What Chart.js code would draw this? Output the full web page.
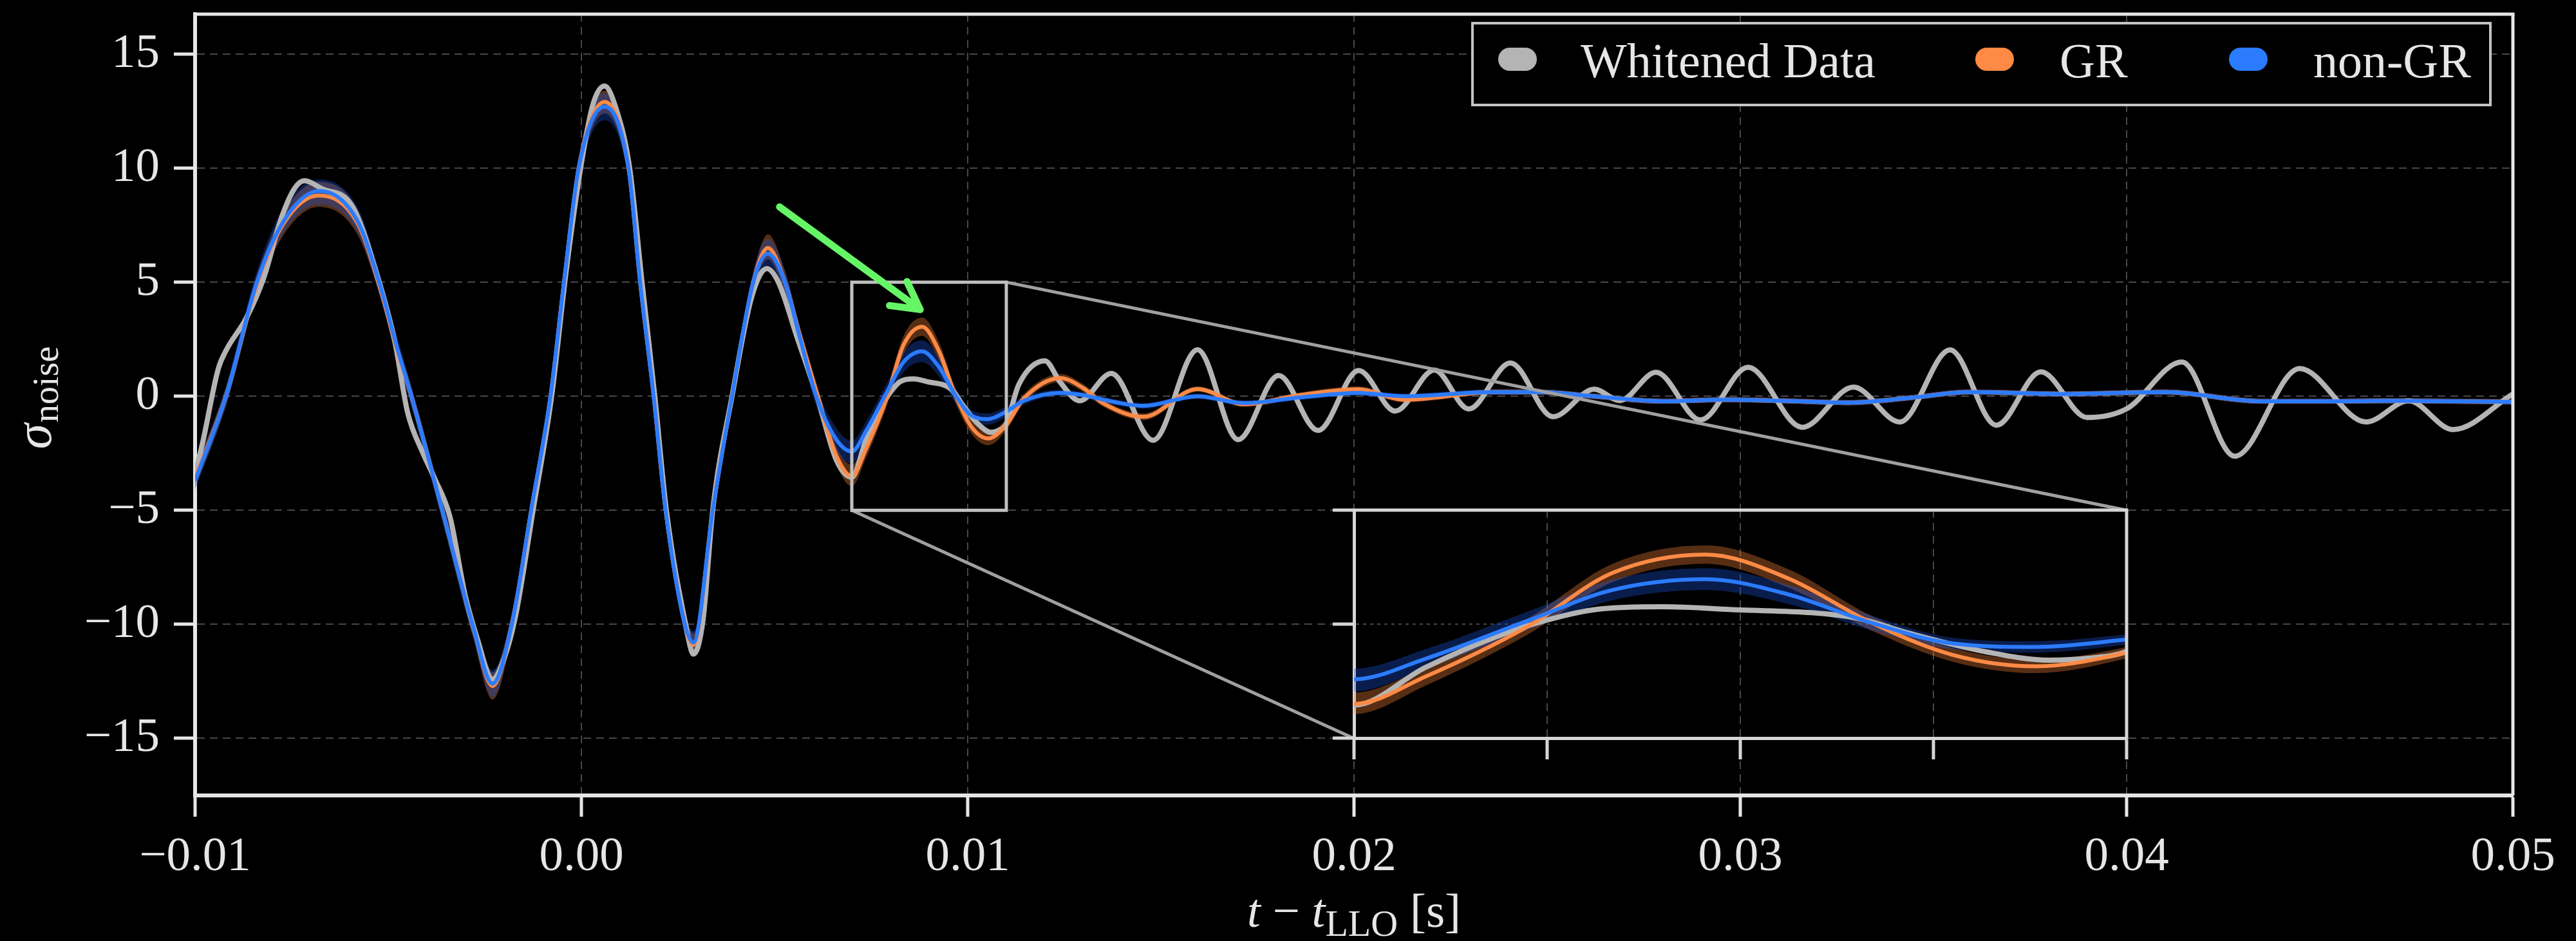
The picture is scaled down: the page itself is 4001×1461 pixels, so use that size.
<!DOCTYPE html>
<html>
<head>
<meta charset="utf-8">
<script src="https://cdn.jsdelivr.net/npm/chart.js@4.4.1/dist/chart.umd.min.js"></script>
<style>
html, body { margin: 0; padding: 0; background: #000; }
#wrap { position: relative; width: 4001px; height: 1461px; overflow: hidden; }
#main { position: absolute; left: 0; top: 0; }
#inset { position: absolute; }
</style>
</head>
<body>
<div id="wrap">
  <canvas id="main" width="4001" height="1461"></canvas>
  <canvas id="inset"></canvas>
</div>
<script>
// axes
var xTicks = [-0.01, 0.0, 0.01, 0.02, 0.03, 0.04, 0.05];
var yTicks = [-15, -10, -5, 0, 5, 10, 15];
var insetXTicks = [0.007, 0.008, 0.009, 0.010, 0.011];
var insetYTicks = [-5, 0, 5];
var seriesNames = ['Whitened Data', 'GR', 'non-GR'];

// zoomed region and where the inset sits (data coords of the main axes)
var zoomBox = {x0: 0.007, x1: 0.011, y0: -5, y1: 5};
var insetBox = {x0: 0.02, x1: 0.04, y0: -15, y1: -5};
var arrowFrom = [0.00513, 8.3];
var arrowTo = [0.00877, 3.8];

// whitened data
var tData = [
  -0.0100, -0.0098, -0.0094, -0.0092, -0.00867, -0.00822, -0.00777, -0.00743, -0.00717, -0.00672,
  -0.00593, -0.00527, -0.00483, -0.0045, -0.0041, -0.0038, -0.0034, -0.0030, -0.0027, -0.0023,
  -0.0020, -0.0017, -0.00125, -0.00077, -0.0004, 0.0000, 0.0003, 0.0006, 0.0009, 0.00125,
  0.00157, 0.0019, 0.0022, 0.0027, 0.0029, 0.00315, 0.0034, 0.0039, 0.0044, 0.0048,
  0.0051, 0.0056, 0.0061, 0.0066, 0.0070, 0.00737, 0.00773, 0.0080, 0.00826, 0.0086,
  0.0090, 0.00937, 0.0096, 0.00987, 0.01028, 0.0106, 0.0108, 0.0110, 0.01132, 0.0120,
  0.0124, 0.0129, 0.01372, 0.0148, 0.01595, 0.0170, 0.01805, 0.01907, 0.02012, 0.02107,
  0.02208, 0.02297, 0.02405, 0.02515, 0.02622, 0.02688, 0.02782, 0.02897, 0.0302, 0.0316,
  0.03293, 0.03413, 0.03543, 0.03663, 0.03778, 0.03898, 0.0400, 0.04143, 0.0428, 0.04448,
  0.0462, 0.0473, 0.04845, 0.0500
];
var yData = [
  -3.4, -2.0, 1.2, 2.0, 3.44, 5.2, 7.8, 9.1, 9.45, 9.1,
  8.33, 5.2, 2.4, -0.7, -2.5, -3.6, -5.3, -8.8, -10.6, -12.4,
  -11.5, -9.6, -5.0, 0.0, 5.4, 10.2, 12.8, 13.6, 12.6, 10.0,
  5.0, 0.0, -5.0, -10.0, -11.3, -9.8, -5.0, 0.0, 4.3, 5.6,
  5.0, 2.5, 0.0, -2.8, -3.55, -1.9, -0.57, 0.18, 0.65, 0.76,
  0.62, 0.5, 0.27, -0.39, -1.23, -1.58, -1.5, -1.2, 0.5, 1.55,
  0.6, -0.2, 1.0, -1.93, 2.04, -1.9, 0.91, -1.5, 1.13, -0.65,
  1.15, -0.56, 1.46, -0.9, 0.31, -0.19, 1.05, -1.04, 1.27, -1.36,
  0.4, -1.13, 2.03, -1.27, 1.07, -0.93, -0.55, 1.5, -2.63, 1.21,
  -1.13, -0.2, -1.46, 0.1
];

// GR and non-GR reconstructions (median and 90% band)
var tModel = [
  -0.0100, -0.0092, -0.0084, -0.0077, -0.0068, -0.0058, -0.0052, -0.0048, -0.0044, -0.0036,
  -0.0028, -0.0023, -0.0018, -0.0013, -0.0008, -0.00045, -0.00007, 0.0006, 0.00122, 0.00152,
  0.00187, 0.00218, 0.00268, 0.0029, 0.0034, 0.0039, 0.00445, 0.00483, 0.00527, 0.00565,
  0.0061, 0.0066, 0.0070, 0.00737, 0.0079, 0.00834, 0.00882, 0.00925, 0.00967, 0.0101,
  0.01053, 0.0110, 0.01145, 0.0124, 0.0130, 0.0135, 0.01455, 0.01595, 0.01715, 0.0186,
  0.0201, 0.0213, 0.0236, 0.0248, 0.0262, 0.0280, 0.0296, 0.0311, 0.0328, 0.0345,
  0.0359, 0.0384, 0.0410, 0.0435, 0.0455, 0.0468, 0.0500
];
var yGR = [
  -3.6, 0.0, 4.9, 7.6, 8.8, 7.6, 4.7, 2.2, 0.0, -5.0,
  -10.1, -12.7, -10.0, -5.0, 0.0, 5.0, 10.0, 12.9, 10.0, 5.0,
  0.0, -5.0, -10.0, -10.9, -5.0, 0.0, 5.0, 6.5, 5.0, 2.7,
  0.1, -2.6, -3.5, -2.3, -0.1, 2.25, 3.05, 2.0, 0.1, -1.35,
  -1.85, -1.25, -0.1, 0.8, 0.35, -0.3, -0.9, 0.32, -0.35, 0.05,
  0.31, -0.15, 0.18, 0.18, 0.0, -0.22, -0.15, -0.2, -0.28, -0.05,
  0.18, 0.1, 0.18, -0.22, -0.22, -0.2, -0.25
];
var grLow = [
  -4.0, -0.4, 4.5, 7.1, 8.3, 7.1, 4.3, 1.8, -0.4, -5.4,
  -10.6, -13.3, -10.5, -5.4, -0.4, 4.6, 9.5, 12.4, 9.5, 4.6,
  -0.4, -5.4, -10.5, -11.4, -5.4, -0.4, 4.6, 6.0, 4.5, 2.3,
  -0.3, -3.0, -3.95, -2.7, -0.45, 1.85, 2.65, 1.6, -0.25, -1.65,
  -2.15, -1.5, -0.3, 0.62, 0.18, -0.45, -1.05, 0.2, -0.47, -0.07,
  0.19, -0.27, 0.06, 0.06, -0.12, -0.34, -0.27, -0.32, -0.4, -0.17,
  0.06, -0.02, 0.06, -0.34, -0.34, -0.32, -0.37
];
var grHigh = [
  -3.2, 0.4, 5.3, 8.1, 9.4, 8.2, 5.2, 2.6, 0.4, -4.6,
  -9.6, -12.1, -9.5, -4.6, 0.4, 5.4, 10.5, 13.4, 10.5, 5.4,
  0.4, -4.6, -9.5, -10.4, -4.6, 0.4, 5.4, 7.1, 5.5, 3.1,
  0.5, -2.2, -3.0, -1.9, 0.25, 2.65, 3.45, 2.4, 0.4, -1.05,
  -1.55, -1.0, 0.1, 0.98, 0.52, -0.15, -0.75, 0.44, -0.23, 0.17,
  0.43, -0.03, 0.3, 0.3, 0.12, -0.1, -0.03, -0.08, -0.16, 0.07,
  0.3, 0.22, 0.3, -0.1, -0.1, -0.08, -0.13
];
var yNGR = [
  -3.7, 0.0, 5.0, 7.7, 9.0, 7.7, 4.8, 2.3, 0.0, -5.0,
  -10.1, -12.6, -10.0, -5.0, 0.0, 5.0, 10.0, 12.7, 10.0, 5.0,
  0.0, -5.0, -10.0, -10.8, -5.0, 0.0, 5.0, 6.25, 5.0, 2.6,
  -0.1, -1.9, -2.42, -1.52, 0.15, 1.5, 1.97, 1.3, 0.08, -0.85,
  -1.0, -0.67, -0.2, 0.15, 0.05, -0.15, -0.42, 0.0, -0.3, -0.05,
  0.15, 0.0, 0.18, 0.18, 0.0, -0.22, -0.15, -0.2, -0.28, -0.05,
  0.18, 0.1, 0.18, -0.22, -0.22, -0.2, -0.25
];
var ngrLow = [
  -4.1, -0.45, 4.5, 7.2, 8.4, 7.2, 4.3, 1.8, -0.45, -5.5,
  -10.6, -13.2, -10.5, -5.5, -0.45, 4.5, 9.5, 12.1, 9.5, 4.5,
  -0.45, -5.5, -10.5, -11.3, -5.5, -0.45, 4.5, 5.7, 4.5, 2.1,
  -0.55, -2.4, -2.95, -1.95, -0.25, 1.05, 1.5, 0.88, -0.25, -1.1,
  -1.25, -0.9, -0.38, 0.02, -0.08, -0.28, -0.55, -0.12, -0.42, -0.17,
  0.03, -0.12, 0.06, 0.06, -0.12, -0.34, -0.27, -0.32, -0.4, -0.17,
  0.06, -0.02, 0.06, -0.34, -0.34, -0.32, -0.37
];
var ngrHigh = [
  -3.3, 0.45, 5.5, 8.3, 9.5, 8.3, 5.3, 2.8, 0.45, -4.5,
  -9.6, -12.0, -9.5, -4.5, 0.45, 5.5, 10.5, 13.3, 10.5, 5.5,
  0.45, -4.5, -9.5, -10.3, -4.5, 0.45, 5.5, 6.9, 5.5, 3.1,
  0.35, -1.4, -1.95, -1.1, 0.55, 1.95, 2.45, 1.72, 0.4, -0.6,
  -0.75, -0.45, -0.02, 0.28, 0.18, -0.02, -0.29, 0.12, -0.18, 0.07,
  0.27, 0.12, 0.3, 0.3, 0.12, -0.1, -0.03, -0.08, -0.16, 0.07,
  0.3, 0.22, 0.3, -0.1, -0.1, -0.08, -0.13
];

var SERIF = "'Liberation Serif', 'DejaVu Serif', serif";
var FG = '#e6e6e6';
var GRID = '#474747';
var GREY = '#b4b4b4', ORANGE = '#ff8a45', BLUE = '#2b7bff';

function pts(ts, ys) {
    return ts.map(function (t, i) { return {x: t, y: ys[i]}; });
}
function minus(s) { return s.replace('-', '\u2212'); }

function line(label, data, color, w, order) {
    return {label: label, data: data, borderColor: color, backgroundColor: color,
        borderWidth: w, pointRadius: 0, cubicInterpolationMode: 'monotone',
        fill: false, order: order, clip: 0};
}
function band(label, data, color, target, order) {
    return {label: label, data: data, borderColor: 'rgba(0,0,0,0)', borderWidth: 0,
        backgroundColor: color || 'rgba(0,0,0,0)', pointRadius: 0,
        cubicInterpolationMode: 'monotone', fill: target, order: order, clip: 0};
}
function buildDatasets() {
    return [
        line(seriesNames[2], pts(tModel, yNGR), BLUE, 6, 1),
        line(seriesNames[1], pts(tModel, yGR), ORANGE, 6, 2),
        line(seriesNames[0], pts(tData, yData), GREY, 8, 3),
        band('non-GR 90% high', pts(tModel, ngrHigh), 'rgba(25,85,225,0.34)', 4, 4),
        band('non-GR 90% low', pts(tModel, ngrLow), null, false, 4),
        band('GR 90% high', pts(tModel, grHigh), 'rgba(255,135,60,0.34)', 6, 5),
        band('GR 90% low', pts(tModel, grLow), null, false, 5)
    ];
}

function hline(ctx, x1, y1, x2, y2, color, w) {
    ctx.save();
    ctx.strokeStyle = color;
    ctx.lineWidth = w;
    ctx.beginPath();
    ctx.moveTo(x1, y1);
    ctx.lineTo(x2, y2);
    ctx.stroke();
    ctx.restore();
}

// pieces of the main figure that matplotlib draws as patches / text
var mainDecor = {
    id: 'mainDecor',
    beforeDraw: function (chart) {
        var ctx = chart.ctx;
        ctx.save();
        ctx.fillStyle = '#000';
        ctx.fillRect(0, 0, chart.width, chart.height);
        ctx.restore();
    },
    afterDatasetsDraw: function (chart) {
        var ctx = chart.ctx, xs = chart.scales.x, ys = chart.scales.y;
        var zx0 = xs.getPixelForValue(zoomBox.x0), zx1 = xs.getPixelForValue(zoomBox.x1);
        var zy0 = ys.getPixelForValue(zoomBox.y0), zy1 = ys.getPixelForValue(zoomBox.y1);
        var ix0 = xs.getPixelForValue(insetBox.x0), ix1 = xs.getPixelForValue(insetBox.x1);
        var iy0 = ys.getPixelForValue(insetBox.y0), iy1 = ys.getPixelForValue(insetBox.y1);

        // connectors
        hline(ctx, zx1, zy1, ix1, iy1, '#a0a0a0', 5);
        hline(ctx, zx0, zy0, ix0, iy0, '#a0a0a0', 5);
        // zoom rectangle
        ctx.save();
        ctx.strokeStyle = '#c0c0c0';
        ctx.lineWidth = 5;
        ctx.strokeRect(zx0, zy1, zx1 - zx0, zy0 - zy1);
        ctx.restore();

        // green arrow
        var ax = xs.getPixelForValue(arrowFrom[0]), ay = ys.getPixelForValue(arrowFrom[1]);
        var bx = xs.getPixelForValue(arrowTo[0]), by = ys.getPixelForValue(arrowTo[1]);
        var ang = Math.atan2(by - ay, bx - ax);
        var head = 48, spread = 0.5;
        ctx.save();
        ctx.strokeStyle = '#66f566';
        ctx.lineWidth = 11;
        ctx.lineCap = 'round';
        ctx.lineJoin = 'round';
        ctx.beginPath();
        ctx.moveTo(ax, ay);
        ctx.lineTo(bx, by);
        ctx.moveTo(bx - head * Math.cos(ang - spread), by - head * Math.sin(ang - spread));
        ctx.lineTo(bx, by);
        ctx.lineTo(bx - head * Math.cos(ang + spread), by - head * Math.sin(ang + spread));
        ctx.stroke();
        ctx.restore();
    },
    afterDraw: function (chart) {
        var ctx = chart.ctx, a = chart.chartArea;
        // top and right spines
        hline(ctx, a.left - 2.5, a.top, a.right + 2.5, a.top, FG, 5);
        hline(ctx, a.right, a.top, a.right, a.bottom, FG, 5);

        // legend
        var bw = 1581, bh = 127;
        var bx = a.right - 35 - bw, by = a.top + 14;
        ctx.save();
        ctx.fillStyle = '#000';
        ctx.fillRect(bx, by, bw, bh);
        ctx.strokeStyle = '#c4c4c4';
        ctx.lineWidth = 4;
        ctx.strokeRect(bx, by, bw, bh);
        var markX = [70, 811, 1205], textX = [168, 912, 1306];
        ctx.font = '76px ' + SERIF;
        ctx.textBaseline = 'alphabetic';
        seriesNames.forEach(function (name, i) {
            var ds = chart.data.datasets.filter(function (d) { return d.label === name; })[0];
            ctx.strokeStyle = ds.borderColor;
            ctx.lineCap = 'round';
            ctx.lineWidth = 36;
            ctx.beginPath();
            ctx.moveTo(bx + markX[i] - 12, by + 56);
            ctx.lineTo(bx + markX[i] + 12, by + 56);
            ctx.stroke();
            ctx.fillStyle = FG;
            ctx.fillText(name, bx + textX[i], by + 84);
        });
        ctx.restore();

        // x title: t - t_LLO [s]
        var parts = [
            ['t', 'italic 75px ', 0], [' \u2212 ', '75px ', 0], ['t', 'italic 75px ', 0],
            ['LLO', '58px ', 14], [' [s]', '75px ', 0]
        ];
        ctx.save();
        ctx.fillStyle = FG;
        var tot = 0;
        parts.forEach(function (p) { ctx.font = p[1] + SERIF; p.push(ctx.measureText(p[0]).width); tot += p[3]; });
        var x = (a.left + a.right) / 2 - tot / 2;
        parts.forEach(function (p) { ctx.font = p[1] + SERIF; ctx.fillText(p[0], x, 1439 + p[2]); x += p[3]; });
        ctx.restore();

        // y title: sigma_noise
        ctx.save();
        ctx.fillStyle = FG;
        ctx.translate(79, (a.top + a.bottom) / 2 - 10);
        ctx.rotate(-Math.PI / 2);
        ctx.font = 'italic 80px ' + SERIF;
        var w1 = ctx.measureText('\u03c3').width;
        ctx.font = '56px ' + SERIF;
        var w2 = ctx.measureText('noise').width;
        var sx = -(w1 + w2) / 2;
        ctx.font = 'italic 80px ' + SERIF;
        ctx.fillText('\u03c3', sx, 0);
        ctx.font = '56px ' + SERIF;
        ctx.fillText('noise', sx + w1 + 2, 11);
        ctx.restore();
    }
};

var main = new Chart(document.getElementById('main').getContext('2d'), {
    type: 'line',
    data: {datasets: buildDatasets()},
    options: {
        responsive: false,
        animation: false,
        devicePixelRatio: 1,
        layout: {padding: {left: 0, right: 98, top: 22, bottom: 0}, autoPadding: false},
        plugins: {legend: {display: false}, tooltip: {enabled: false}},
        scales: {
            x: {
                type: 'linear', min: -0.01, max: 0.05,
                afterBuildTicks: function (s) { s.ticks = xTicks.map(function (v) { return {value: v}; }); },
                afterFit: function (s) { s.height = 226; s.paddingLeft = 0; s.paddingRight = 0; },
                ticks: {
                    callback: function (v) { return minus(v.toFixed(2)); },
                    color: FG, font: {family: SERIF, size: 75}, padding: 18,
                    maxRotation: 0, autoSkip: false
                },
                grid: {color: GRID, lineWidth: 2, tickColor: FG, tickWidth: 5, tickLength: 33, tickBorderDash: []},
                border: {display: true, color: FG, width: 6, dash: [12, 8]}
            },
            y: {
                type: 'linear', min: -17.5, max: 16.75,
                afterBuildTicks: function (s) { s.ticks = yTicks.map(function (v) { return {value: v}; }); },
                afterFit: function (s) { s.width = 303; s.paddingTop = 0; s.paddingBottom = 0; },
                ticks: {
                    callback: function (v) { return minus(String(v)); },
                    color: FG, font: {family: SERIF, size: 75}, padding: 22
                },
                grid: {color: GRID, lineWidth: 2, tickColor: FG, tickWidth: 5, tickLength: 33, tickBorderDash: []},
                border: {display: true, color: FG, width: 6, dash: [12, 8]}
            }
        }
    },
    plugins: [mainDecor]
});

// inset axes placed over the main axes at insetBox
var PADL = 35, PADB = 35, PADT = 5, PADR = 5;
var mx = main.scales.x, my = main.scales.y;
var iL = Math.round(mx.getPixelForValue(insetBox.x0)), iR = Math.round(mx.getPixelForValue(insetBox.x1));
var iT = Math.round(my.getPixelForValue(insetBox.y1)), iB = Math.round(my.getPixelForValue(insetBox.y0));
var ic = document.getElementById('inset');
ic.width = iR - iL + PADL + PADR;
ic.height = iB - iT + PADT + PADB;
ic.style.left = (iL - PADL) + 'px';
ic.style.top = (iT - PADT) + 'px';

var INSET_FG = '#d6d6d6';
var insetDecor = {
    id: 'insetDecor',
    beforeDraw: function (chart) {
        var a = chart.chartArea, ctx = chart.ctx;
        ctx.save();
        ctx.fillStyle = '#000';
        ctx.fillRect(a.left, a.top, a.right - a.left, a.bottom - a.top);
        ctx.restore();
    },
    afterDraw: function (chart) {
        var a = chart.chartArea, ctx = chart.ctx;
        hline(ctx, a.left - 2.5, a.top, a.right + 2.5, a.top, INSET_FG, 5);
        hline(ctx, a.right, a.top, a.right, a.bottom + 2.5, INSET_FG, 5);
    }
};

var inset = new Chart(ic.getContext('2d'), {
    type: 'line',
    data: {datasets: buildDatasets()},
    options: {
        responsive: false,
        animation: false,
        devicePixelRatio: 1,
        layout: {padding: {left: 0, right: PADR, top: PADT, bottom: 0}, autoPadding: false},
        plugins: {legend: {display: false}, tooltip: {enabled: false}},
        scales: {
            x: {
                type: 'linear', min: zoomBox.x0, max: zoomBox.x1,
                afterBuildTicks: function (s) { s.ticks = insetXTicks.map(function (v) { return {value: v}; }); },
                afterFit: function (s) { s.height = PADB; s.paddingLeft = 0; s.paddingRight = 0; },
                ticks: {display: false},
                grid: {color: GRID, lineWidth: 2, tickColor: INSET_FG, tickWidth: 5, tickLength: 33, tickBorderDash: []},
                border: {display: true, color: INSET_FG, width: 5, dash: [12, 8]}
            },
            y: {
                type: 'linear', min: zoomBox.y0, max: zoomBox.y1,
                afterBuildTicks: function (s) { s.ticks = insetYTicks.map(function (v) { return {value: v}; }); },
                afterFit: function (s) { s.width = PADL; s.paddingTop = 0; s.paddingBottom = 0; },
                ticks: {display: false},
                grid: {color: GRID, lineWidth: 2, tickColor: INSET_FG, tickWidth: 5, tickLength: 33, tickBorderDash: []},
                border: {display: true, color: INSET_FG, width: 5, dash: [5, 6]}
            }
        }
    },
    plugins: [insetDecor]
});
</script>
</body>
</html>
